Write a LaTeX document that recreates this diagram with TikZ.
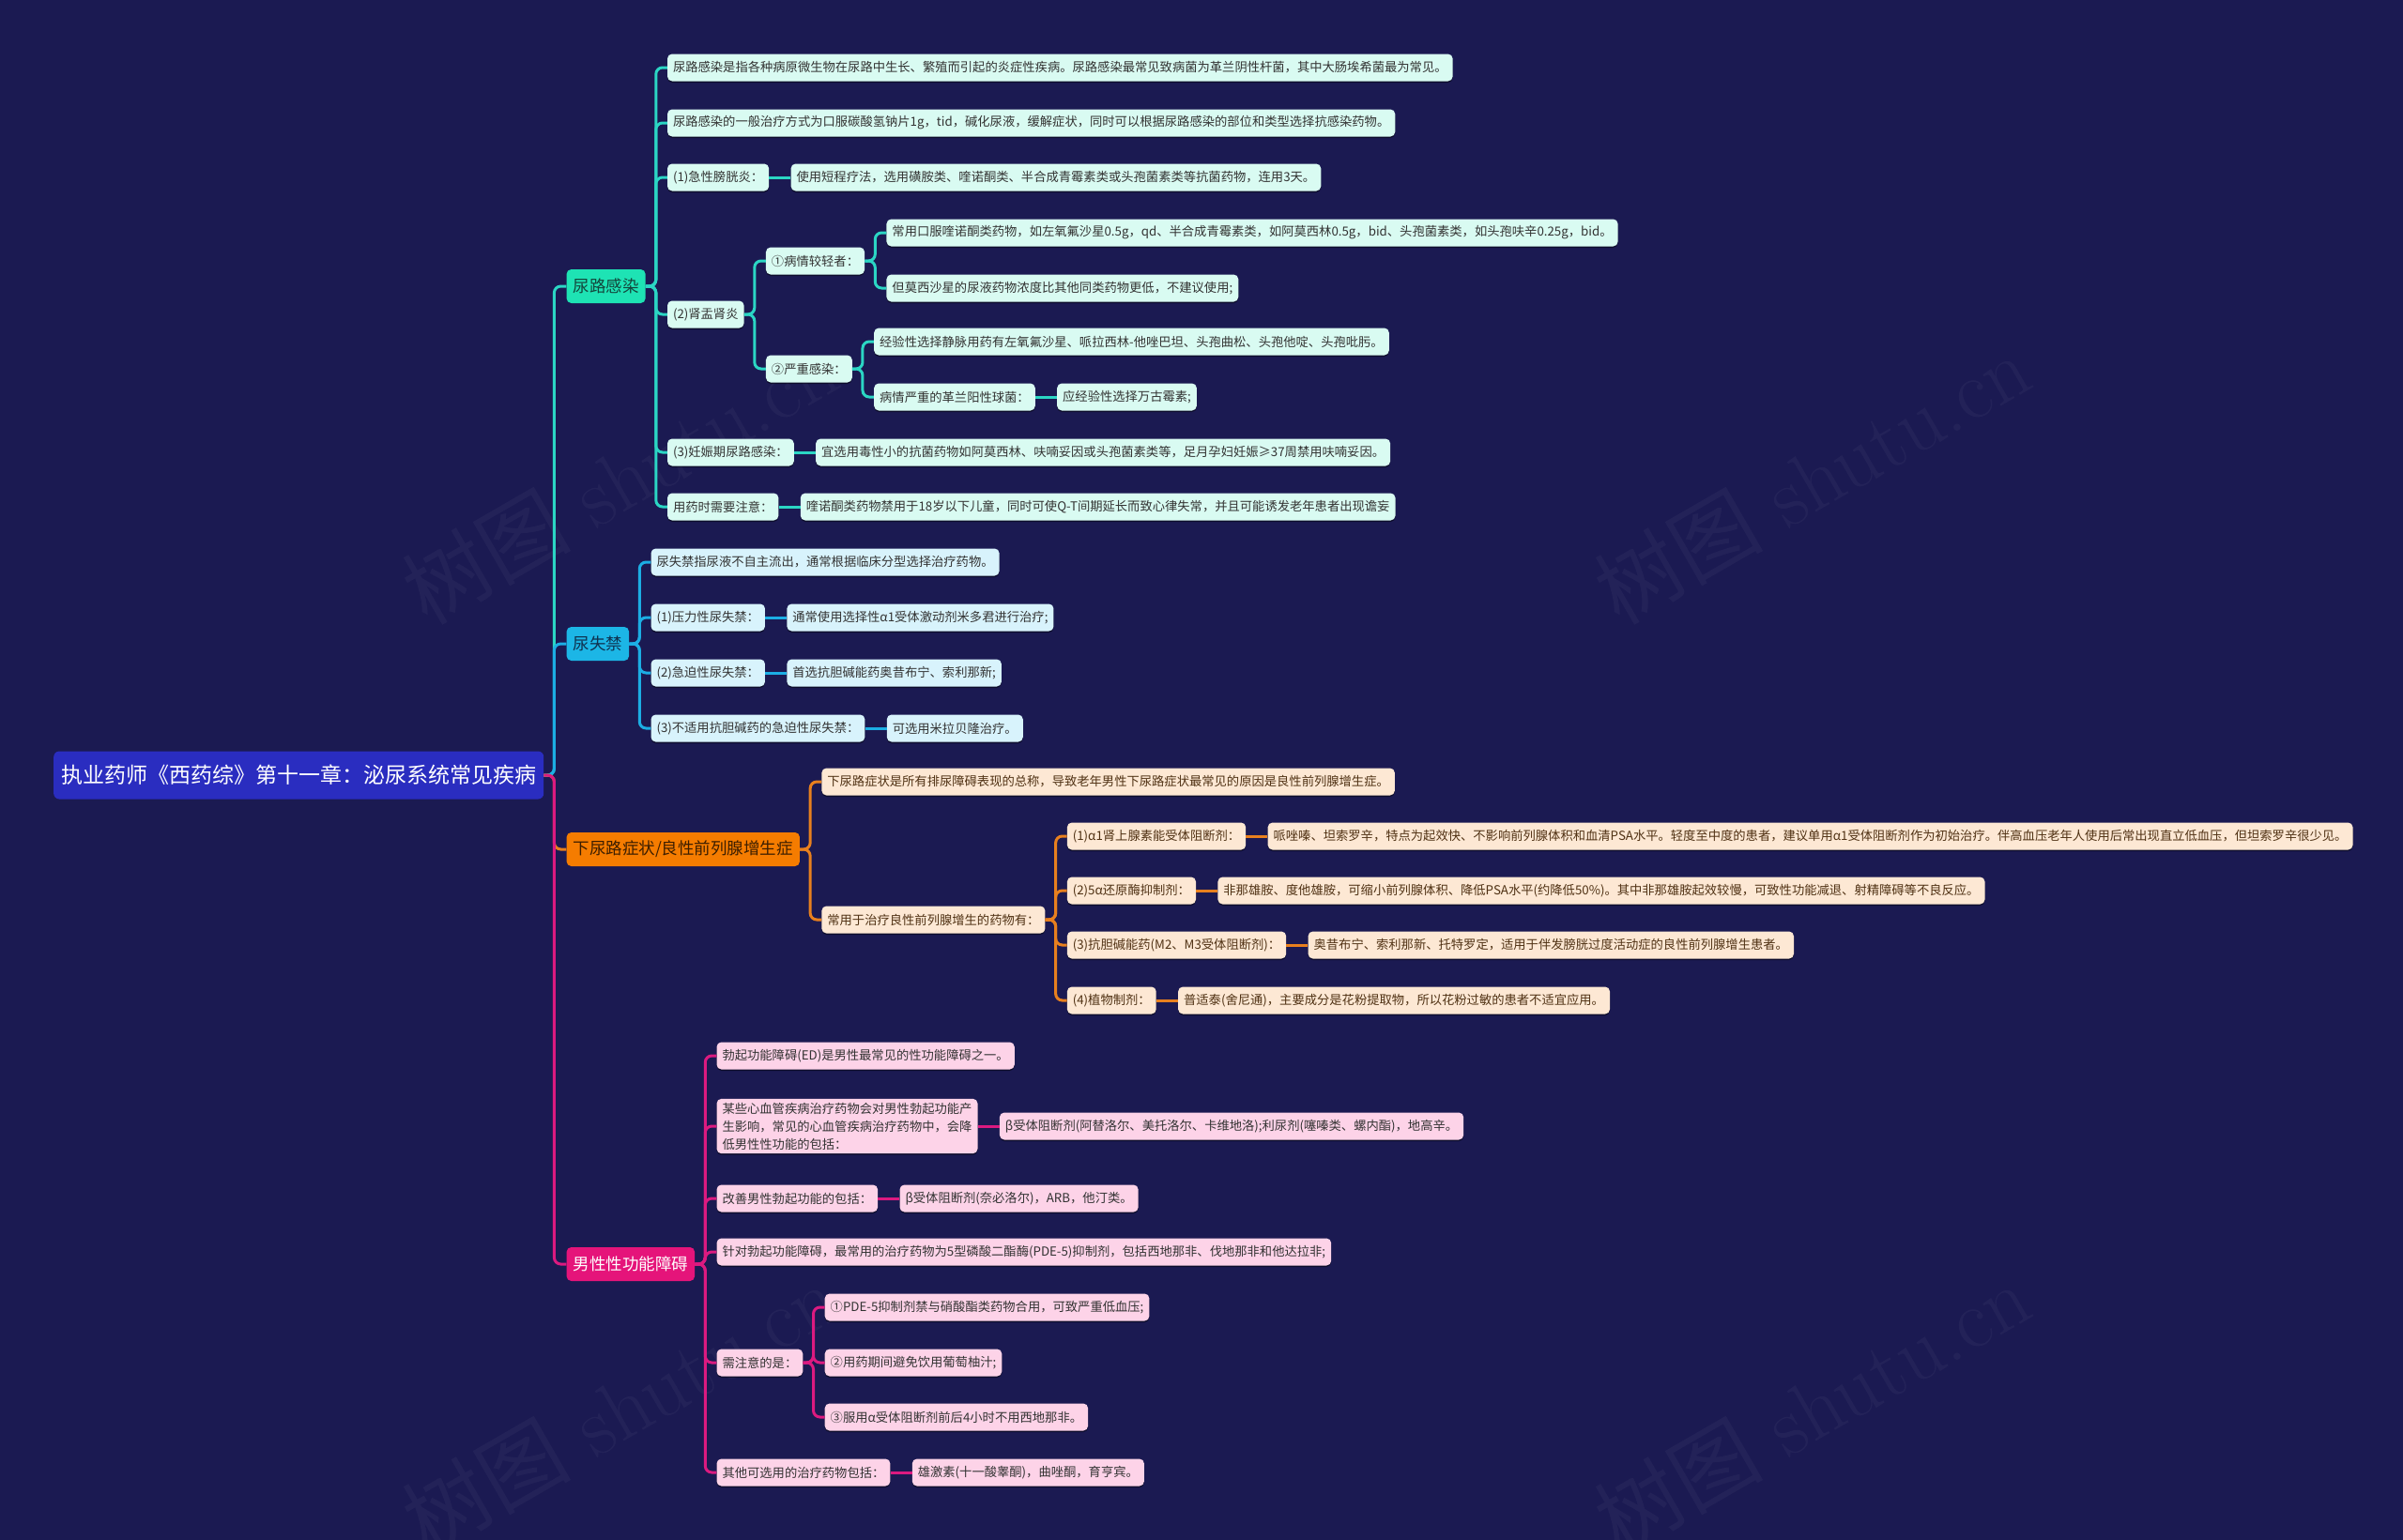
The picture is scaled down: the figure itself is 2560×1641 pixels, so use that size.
\documentclass[tikz,border=0pt]{standalone}
\usepackage{fontspec}
\newfontfamily\cjk{Noto Sans CJK SC}
\usetikzlibrary{positioning,shadows}
\definecolor{bg}{HTML}{1B1A52}
\definecolor{rootF}{HTML}{2A2DC0}
\definecolor{tealN}{HTML}{1EE3B4}
\definecolor{tealL}{HTML}{2BD6C4}
\definecolor{tealF}{HTML}{D9FBF2}
\definecolor{cyanN}{HTML}{1CB6E6}
\definecolor{cyanL}{HTML}{1CAEE4}
\definecolor{cyanF}{HTML}{D8F3FC}
\definecolor{orgN}{HTML}{F57C00}
\definecolor{orgL}{HTML}{E8801E}
\definecolor{orgF}{HTML}{FDE8D4}
\definecolor{pinkN}{HTML}{E5147A}
\definecolor{pinkL}{HTML}{DC1A80}
\definecolor{pinkF}{HTML}{FDD3E8}
\tikzset{
  box/.style={rounded corners=5pt, inner xsep=6pt, inner ysep=4pt, minimum height=29pt, anchor=west,
    font=\cjk\fontsize{13.3}{19}\selectfont,
    drop shadow={shadow xshift=0pt,shadow yshift=-1.5pt,opacity=0.45,fill=black}},
  lt/.style={box, fill=tealF, text=black!80},
  lc/.style={box, fill=cyanF, text=black!80},
  lo/.style={box, fill=orgF, text={rgb,255:red,80;green,50;blue,20}},
  lp/.style={box, fill=pinkF, text=black!80},
  lone/.style={rounded corners=5pt, inner xsep=7pt, minimum height=36pt, anchor=west,
    font=\cjk\fontsize{17.5}{20}\selectfont},
  rootbox/.style={rounded corners=6pt, inner xsep=8pt, minimum height=51pt, anchor=west,
    fill=rootF, text=white, font=\cjk\fontsize{23}{26}\selectfont},
  ct/.style={line width=3pt, tealL, rounded corners=7pt},
  cc/.style={line width=3pt, cyanL, rounded corners=7pt},
  co/.style={line width=3pt, orgL, rounded corners=7pt},
  cp/.style={line width=3pt, pinkL, rounded corners=7pt},
  wm/.style={rotate=30, text=white, opacity=0.04, font=\fontsize{90}{90}\selectfont}
}
\newcommand{\br}[3]{\draw[#1] (#2.east) -- ++(11pt,0) |- (#3.west);}
\newcommand{\st}[3]{\draw[#1] (#2.east) -- (#3.west);}
\begin{document}
\begin{tikzpicture}[x=1pt,y=-1pt]
\fill[bg] (0,0) rectangle (2560,1641);
\useasboundingbox (0,0) rectangle (2560,1641);
% watermarks
\node[wm] (w1) at (660,510) {{\cjk 树图} shutu.cn};
\node[wm] (w2) at (1930,510) {{\cjk 树图} shutu.cn};
\node[wm] (w3) at (660,1500) {{\cjk 树图} shutu.cn};
\node[wm] (w4) at (1930,1500) {{\cjk 树图} shutu.cn};
% root
\node[rootbox] (root) at (57,826) {执业药师《西药综》第十一章：泌尿系统常见疾病};
\coordinate (r0) at ([xshift=24pt]root.east);
\node[lone, fill=tealN, text={rgb,255:red,20;green,70;blue,60}] (A) at (r0 |- 0,305) {尿路感染};
\node[lone, fill=cyanN, text={rgb,255:red,15;green,50;blue,80}] (B) at (r0 |- 0,686) {尿失禁};
\node[lone, fill=orgN, text={rgb,255:red,60;green,30;blue,0}] (C) at (r0 |- 0,905) {下尿路症状/良性前列腺增生症};
\node[lone, fill=pinkN, text=white] (D) at (r0 |- 0,1347) {男性性功能障碍};
% ---- A
\coordinate (a0) at ([xshift=23pt]A.east);
\node[lt] (a1) at (a0 |- 0,72) {尿路感染是指各种病原微生物在尿路中生长、繁殖而引起的炎症性疾病。尿路感染最常见致病菌为革兰阴性杆菌，其中大肠埃希菌最为常见。};
\node[lt] (a2) at (a0 |- 0,131) {尿路感染的一般治疗方式为口服碳酸氢钠片1g，tid，碱化尿液，缓解症状，同时可以根据尿路感染的部位和类型选择抗感染药物。};
\node[lt] (a3) at (a0 |- 0,189) {(1)急性膀胱炎：};
\node[lt, right=23pt of a3] (a3a) {使用短程疗法，选用磺胺类、喹诺酮类、半合成青霉素类或头孢菌素类等抗菌药物，连用3天。};
\node[lt] (a4) at (a0 |- 0,335) {(2)肾盂肾炎};
\coordinate (a40) at ([xshift=23pt]a4.east);
\node[lt] (a41) at (a40 |- 0,278) {①病情较轻者：};
\coordinate (a410) at ([xshift=23pt]a41.east);
\node[lt] (a411) at (a410 |- 0,248) {常用口服喹诺酮类药物，如左氧氟沙星0.5g，qd、半合成青霉素类，如阿莫西林0.5g，bid、头孢菌素类，如头孢呋辛0.25g，bid。};
\node[lt] (a412) at (a410 |- 0,307) {但莫西沙星的尿液药物浓度比其他同类药物更低，不建议使用;};
\node[lt] (a42) at (a40 |- 0,393) {②严重感染：};
\coordinate (a420) at ([xshift=23pt]a42.east);
\node[lt] (a421) at (a420 |- 0,364) {经验性选择静脉用药有左氧氟沙星、哌拉西林-他唑巴坦、头孢曲松、头孢他啶、头孢吡肟。};
\node[lt] (a422) at (a420 |- 0,423) {病情严重的革兰阳性球菌：};
\node[lt, right=23pt of a422] (a422a) {应经验性选择万古霉素;};
\node[lt] (a5) at (a0 |- 0,482) {(3)妊娠期尿路感染：};
\node[lt, right=23pt of a5] (a5a) {宜选用毒性小的抗菌药物如阿莫西林、呋喃妥因或头孢菌素类等，足月孕妇妊娠≥37周禁用呋喃妥因。};
\node[lt] (a6) at (a0 |- 0,540) {用药时需要注意：};
\node[lt, right=23pt of a6] (a6a) {喹诺酮类药物禁用于18岁以下儿童，同时可使Q-T间期延长而致心律失常，并且可能诱发老年患者出现谵妄};
% ---- B
\coordinate (b0) at ([xshift=23pt]B.east);
\node[lc] (b1) at (b0 |- 0,599) {尿失禁指尿液不自主流出，通常根据临床分型选择治疗药物。};
\node[lc] (b2) at (b0 |- 0,658) {(1)压力性尿失禁：};
\node[lc, right=23pt of b2] (b2a) {通常使用选择性α1受体激动剂米多君进行治疗;};
\node[lc] (b3) at (b0 |- 0,717) {(2)急迫性尿失禁：};
\node[lc, right=23pt of b3] (b3a) {首选抗胆碱能药奥昔布宁、索利那新;};
\node[lc] (b4) at (b0 |- 0,776) {(3)不适用抗胆碱药的急迫性尿失禁：};
\node[lc, right=23pt of b4] (b4a) {可选用米拉贝隆治疗。};
% ---- C
\coordinate (c0) at ([xshift=23pt]C.east);
\node[lo] (c1) at (c0 |- 0,833) {下尿路症状是所有排尿障碍表现的总称，导致老年男性下尿路症状最常见的原因是良性前列腺增生症。};
\node[lo] (c2) at (c0 |- 0,980) {常用于治疗良性前列腺增生的药物有：};
\coordinate (c20) at ([xshift=23pt]c2.east);
\node[lo] (c21) at (c20 |- 0,891) {(1)α1肾上腺素能受体阻断剂：};
\node[lo, right=23pt of c21] (c21a) {哌唑嗪、坦索罗辛，特点为起效快、不影响前列腺体积和血清PSA水平。轻度至中度的患者，建议单用α1受体阻断剂作为初始治疗。伴高血压老年人使用后常出现直立低血压，但坦索罗辛很少见。};
\node[lo] (c22) at (c20 |- 0,949) {(2)5α还原酶抑制剂：};
\node[lo, right=23pt of c22] (c22a) {非那雄胺、度他雄胺，可缩小前列腺体积、降低PSA水平(约降低50\%)。其中非那雄胺起效较慢，可致性功能减退、射精障碍等不良反应。};
\node[lo] (c23) at (c20 |- 0,1007) {(3)抗胆碱能药(M2、M3受体阻断剂)：};
\node[lo, right=23pt of c23] (c23a) {奥昔布宁、索利那新、托特罗定，适用于伴发膀胱过度活动症的良性前列腺增生患者。};
\node[lo] (c24) at (c20 |- 0,1066) {(4)植物制剂：};
\node[lo, right=23pt of c24] (c24a) {普适泰(舍尼通)，主要成分是花粉提取物，所以花粉过敏的患者不适宜应用。};
% ---- D
\coordinate (d0) at ([xshift=23pt]D.east);
\node[lp] (d1) at (d0 |- 0,1125) {勃起功能障碍(ED)是男性最常见的性功能障碍之一。};
\node[lp, align=left] (d2) at (d0 |- 0,1200) {某些心血管疾病治疗药物会对男性勃起功能产\\生影响，常见的心血管疾病治疗药物中，会降\\低男性性功能的包括：};
\node[lp, right=23pt of d2] (d2a) {β受体阻断剂(阿替洛尔、美托洛尔、卡维地洛);利尿剂(噻嗪类、螺内酯)，地高辛。};
\node[lp] (d3) at (d0 |- 0,1277) {改善男性勃起功能的包括：};
\node[lp, right=23pt of d3] (d3a) {β受体阻断剂(奈必洛尔)，ARB，他汀类。};
\node[lp] (d4) at (d0 |- 0,1334) {针对勃起功能障碍，最常用的治疗药物为5型磷酸二酯酶(PDE-5)抑制剂，包括西地那非、伐地那非和他达拉非;};
\node[lp] (d5) at (d0 |- 0,1452) {需注意的是：};
\coordinate (d50) at ([xshift=23pt]d5.east);
\node[lp] (d51) at (d50 |- 0,1393) {①PDE-5抑制剂禁与硝酸酯类药物合用，可致严重低血压;};
\node[lp] (d52) at (d50 |- 0,1452) {②用药期间避免饮用葡萄柚汁;};
\node[lp] (d53) at (d50 |- 0,1510) {③服用α受体阻断剂前后4小时不用西地那非。};
\node[lp] (d6) at (d0 |- 0,1569) {其他可选用的治疗药物包括：};
\node[lp, right=23pt of d6] (d6a) {雄激素(十一酸睾酮)，曲唑酮，育亨宾。};
% ---- connectors
\br{ct}{root}{A} \br{cc}{root}{B} \br{co}{root}{C} \br{cp}{root}{D}
\br{ct}{A}{a1} \br{ct}{A}{a2} \br{ct}{A}{a3} \br{ct}{A}{a4} \br{ct}{A}{a5} \br{ct}{A}{a6}
\st{ct}{a3}{a3a} \st{ct}{a5}{a5a} \st{ct}{a6}{a6a}
\br{ct}{a4}{a41} \br{ct}{a4}{a42}
\br{ct}{a41}{a411} \br{ct}{a41}{a412}
\br{ct}{a42}{a421} \br{ct}{a42}{a422} \st{ct}{a422}{a422a}
\br{cc}{B}{b1} \br{cc}{B}{b2} \br{cc}{B}{b3} \br{cc}{B}{b4}
\st{cc}{b2}{b2a} \st{cc}{b3}{b3a} \st{cc}{b4}{b4a}
\br{co}{C}{c1} \br{co}{C}{c2}
\br{co}{c2}{c21} \br{co}{c2}{c22} \br{co}{c2}{c23} \br{co}{c2}{c24}
\st{co}{c21}{c21a} \st{co}{c22}{c22a} \st{co}{c23}{c23a} \st{co}{c24}{c24a}
\br{cp}{D}{d1} \br{cp}{D}{d2} \br{cp}{D}{d3} \br{cp}{D}{d4} \br{cp}{D}{d5} \br{cp}{D}{d6}
\st{cp}{d2}{d2a} \st{cp}{d3}{d3a} \st{cp}{d6}{d6a}
\br{cp}{d5}{d51} \br{cp}{d5}{d52} \br{cp}{d5}{d53}
\end{tikzpicture}
\end{document}
